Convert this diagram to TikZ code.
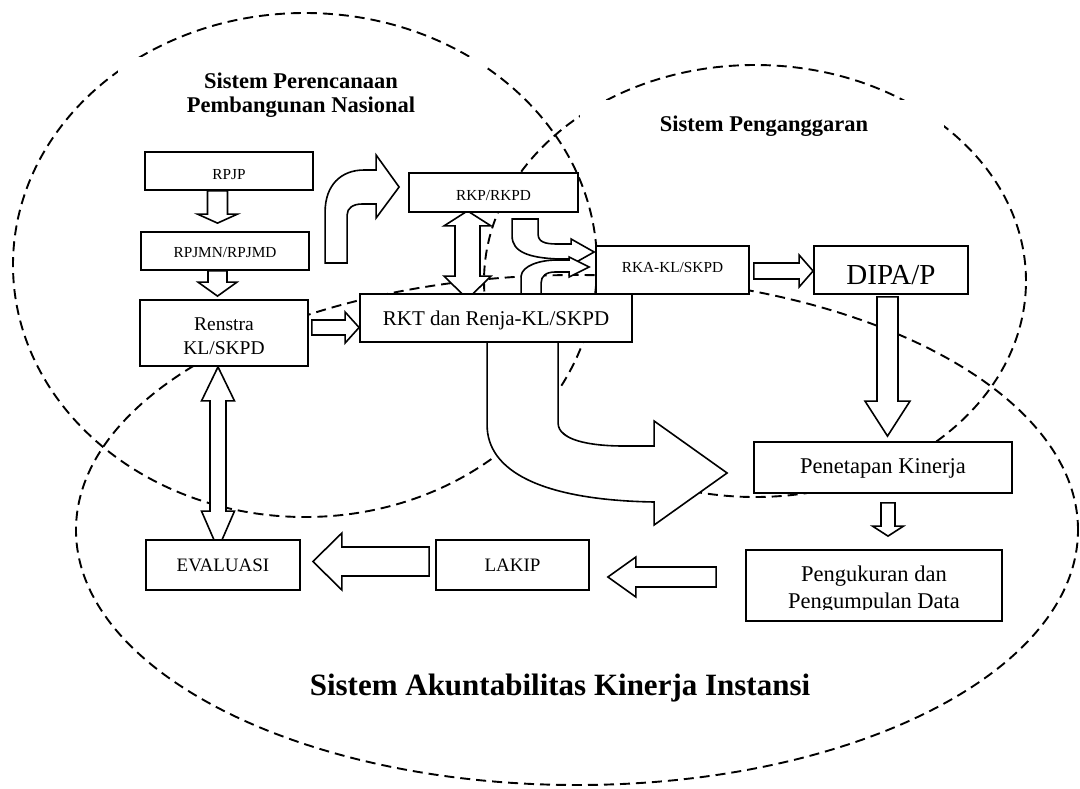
\documentclass[tikz,border=0pt]{standalone}
\usepackage{fontspec}
\setmainfont{Liberation Serif}
\usetikzlibrary{calc}
\pgfdeclarelayer{ell}
\pgfdeclarelayer{arr}
\pgfsetlayers{ell,arr,main}

% straight block arrows: start, tip, shaft half width, head half width, head length
\newcommand\blkdown[5]{%
  \draw[blk] let \p1=(#1), \p2=(#2) in
    (\x2-#3pt,\y1) -- (\x2-#3pt,\y2+#5pt) -- (\x2-#4pt,\y2+#5pt) -- (\p2)
    -- (\x2+#4pt,\y2+#5pt) -- (\x2+#3pt,\y2+#5pt) -- (\x2+#3pt,\y1) -- cycle;}
\newcommand\blkright[5]{%
  \draw[blk] let \p1=(#1), \p2=(#2) in
    (\x1,\y2+#3pt) -- (\x2-#5pt,\y2+#3pt) -- (\x2-#5pt,\y2+#4pt) -- (\p2)
    -- (\x2-#5pt,\y2-#4pt) -- (\x2-#5pt,\y2-#3pt) -- (\x1,\y2-#3pt) -- cycle;}
\newcommand\blkleft[5]{%
  \draw[blk] let \p1=(#1), \p2=(#2) in
    (\x1,\y2+#3pt) -- (\x2+#5pt,\y2+#3pt) -- (\x2+#5pt,\y2+#4pt) -- (\p2)
    -- (\x2+#5pt,\y2-#4pt) -- (\x2+#5pt,\y2-#3pt) -- (\x1,\y2-#3pt) -- cycle;}
% two-headed vertical block arrow: upper tip, lower tip, shaft hw, head hw, upper head length, lower head length
\newcommand\blkupdown[6]{%
  \draw[blk] let \p1=(#1), \p2=(#2) in
    (\p1) -- (\x1+#4pt,\y1-#5pt) -- (\x1+#3pt,\y1-#5pt) -- (\x1+#3pt,\y2+#6pt)
    -- (\x1+#4pt,\y2+#6pt) -- (\x1,\y2) -- (\x1-#4pt,\y2+#6pt) -- (\x1-#3pt,\y2+#6pt)
    -- (\x1-#3pt,\y1-#5pt) -- (\x1-#4pt,\y1-#5pt) -- cycle;}

\begin{document}
\begin{tikzpicture}[x=1pt,y=-1pt,
  box/.style={draw,line width=1.8pt,fill=white,inner sep=0pt},
  blk/.style={draw,fill=white,line width=1.6pt,line join=miter},
  ring/.style={draw,line width=1.9pt,dash pattern=on 10pt off 6pt},
  lbl/.style={anchor=base,inner sep=0pt},
  sz/.style={font=\fontsize{#1}{#1}\selectfont},
  ttl/.style={font=\fontsize{22.5}{22.5}\selectfont\bfseries},
  bigttl/.style={font=\fontsize{31}{31}\selectfont\bfseries},
  titlebg/.style={fill=white,inner sep=0pt}]
\useasboundingbox (0,0) rectangle (1080,788);

% ---------- the three system areas ----------
\begin{pgfonlayer}{ell}
  \fill[white] (0,0) rectangle (1080,788);
  \draw[ring] (305,265) ellipse [x radius=292pt, y radius=252pt];
  \draw[ring] (755,281) ellipse [x radius=271pt, y radius=216pt];
  \draw[ring] (577,530) ellipse [x radius=501pt, y radius=255pt];
  \node[titlebg, minimum width=366pt, minimum height=73pt] (t1) at (301,93.5) {};
  \node[titlebg, minimum width=364pt, minimum height=50pt] (t2) at (762,125) {};
\end{pgfonlayer}

% ---------- documents ----------
\node[box, minimum width=168pt, minimum height=38pt] (rpjp) at (229,171) {};
\node[box, minimum width=168pt, minimum height=38pt] (rpjmn) at (225,251) {};
\node[box, minimum width=168pt, minimum height=66pt] (renstra) at (224,333) {};
\node[box, minimum width=272pt, minimum height=48pt] (rkt) at (496,318) {};
\node[box, minimum width=169pt, minimum height=39pt] (rkp) at (493.5,192.5) {};
\node[box, minimum width=153pt, minimum height=48pt] (rka) at (672.5,270) {};
\node[box, minimum width=154pt, minimum height=48pt] (dipa) at (891,270) {};
\node[box, minimum width=258pt, minimum height=51pt] (penetapan) at (883,467.5) {};
\node[box, minimum width=256pt, minimum height=71pt] (pengukuran) at (874,585.5) {};
\node[box, minimum width=154pt, minimum height=50pt] (evaluasi) at (223,565) {};
\node[box, minimum width=153pt, minimum height=50pt] (lakip) at (512.5,565) {};

\node[lbl,sz=15.3] (rpjpL) at ([yshift=-8pt]rpjp.center) {RPJP};
\node[lbl,sz=15.3] (rpjmnL) at ([yshift=-6.7pt]rpjmn.center) {RPJMN/RPJMD};
\node[lbl,sz=15.3] (rkpL) at ([yshift=-8.2pt]rkp.center) {RKP/RKPD};
\node[lbl,sz=15.3] (rkaL) at ([yshift=-2.3pt]rka.center) {RKA-KL/SKPD};
\node[lbl,sz=19.5] (renL1) at ([yshift=3pt]renstra.center) {Renstra};
\node[lbl,sz=19.5] (renL2) at ([yshift=-21pt]renstra.center) {KL/SKPD};
\node[lbl,sz=21] (rktL) at ([yshift=-7.7pt]rkt.center) {RKT dan Renja-KL/SKPD};
\node[lbl,sz=29] (dipaL) at ([yshift=-14.3pt]dipa.center) {DIPA/P};
\node[lbl,sz=22.5] (penL) at ([yshift=-5.8pt]penetapan.center) {Penetapan Kinerja};
\begin{scope}
  \clip (746,540) rectangle (1002,609);
  \node[lbl,sz=22.5] (pengL1) at ([yshift=4.5pt]pengukuran.center) {Pengukuran dan};
  \node[lbl,sz=22.5] (pengL2) at ([yshift=-22.5pt]pengukuran.center) {Pengumpulan Data};
\end{scope}
\node[lbl,sz=19] (evalL) at ([yshift=-6.7pt]evaluasi.center) {EVALUASI};
\node[lbl,sz=19] (lakipL) at ([yshift=-6.7pt]lakip.center) {LAKIP};

\node[lbl,ttl] (t1a) at ([yshift=5.2pt]t1.center) {Sistem Perencanaan};
\node[lbl,ttl] (t1b) at ([yshift=-19.2pt]t1.center) {Pembangunan Nasional};
\node[lbl,ttl] (t2a) at ([xshift=2pt,yshift=-6pt]t2.center) {Sistem Penganggaran};
\node[lbl,bigttl] (t3) at (560,695) {Sistem Akuntabilitas Kinerja Instansi};

% ---------- flows ----------
\begin{pgfonlayer}{arr}
  \coordinate (a1s) at ([xshift=-11.5pt]rpjp.south);
  \coordinate (a1t) at ([xshift=-7.5pt,yshift=8pt]rpjmn.north);
  \blkdown{a1s}{a1t}{10}{20}{9}

  \coordinate (a2s) at ([xshift=-7.5pt]rpjmn.south);
  \coordinate (a2t) at ([xshift=-6.5pt,yshift=3pt]renstra.north);
  \blkdown{a2s}{a2t}{9.5}{19.5}{14}

  \coordinate (a3s) at ([xshift=3pt]renstra.east);
  \coordinate (a3t) at ([yshift=-9.5pt]rkt.west);
  \blkright{a3s}{a3t}{7.5}{15.5}{14}

  \coordinate (a5a) at ([xshift=-26pt,yshift=2pt]rkp.south);
  \coordinate (a5b) at ([xshift=-28.5pt,yshift=-6pt]rkt.north);
  \blkupdown{a5a}{a5b}{12.5}{23.5}{15}{23}

  \coordinate (a8s) at ([xshift=4pt]rka.east);
  \coordinate (a8t) at ([yshift=-1pt]dipa.west);
  \blkright{a8s}{a8t}{8}{16}{14}

  \coordinate (a9s) at ([xshift=-3.5pt,yshift=-2pt]dipa.south);
  \coordinate (a9t) at ([xshift=4.5pt,yshift=5pt]penetapan.north);
  \blkdown{a9s}{a9t}{10.5}{22.5}{35}

  \coordinate (a10s) at ([xshift=5pt,yshift=-9pt]penetapan.south);
  \coordinate (a10t) at ([xshift=14pt,yshift=13pt]pengukuran.north);
  \blkdown{a10s}{a10t}{7}{15.5}{10}

  \coordinate (a11s) at ([xshift=-29pt]pengukuran.west);
  \coordinate (a11t) at ([xshift=18pt,yshift=-12pt]lakip.east);
  \blkleft{a11s}{a11t}{10}{20}{28}

  \coordinate (a12s) at ([xshift=-6pt]lakip.west);
  \coordinate (a12t) at ([xshift=12pt,yshift=3.5pt]evaluasi.east);
  \blkleft{a12s}{a12t}{14.5}{28.5}{29}

  \coordinate (a13a) at ([xshift=-6pt]renstra.south);
  \coordinate (a13b) at ([xshift=-5pt,yshift=-10pt]evaluasi.north);
  \blkupdown{a13a}{a13b}{8}{16.5}{34}{38}

  % bent arrow rising into RKP/RKPD
  \coordinate (a4t) at ([xshift=-9pt,yshift=5.5pt]rkp.west);
  \begin{scope}[shift={(a4t)}]
    \draw[blk] (0,0) -- (-23,-32) -- (-23,-17) -- (-35,-17)
      .. controls (-58,-17) and (-74,-2) .. (-74,25) -- (-74,76) -- (-52,76) -- (-52,28)
      .. controls (-52,21) and (-46,17) .. (-37,17) -- (-23,17) -- (-23,31) -- cycle;
  \end{scope}

  % RKP/RKPD down into RKA-KL/SKPD
  \coordinate (a6t) at ([xshift=-1pt,yshift=18pt]rka.west);
  \begin{scope}[shift={(a6t)}]
    \draw[blk] (-82,-33) -- (-56,-33) -- (-56,-18)
      .. controls (-56,-10) and (-49,-8) .. (-37,-8) -- (-23,-8) -- (-23,-13) -- (0,0)
      -- (-23,13) -- (-23,7) -- (-35,7)
      .. controls (-65,6) and (-82,0) .. (-82,-16) -- cycle;
  \end{scope}

  % RKT up into RKA-KL/SKPD
  \coordinate (a7t) at ([xshift=-6pt,yshift=3pt]rka.west);
  \begin{scope}[shift={(a7t)}]
    \draw[blk] (-68,27) -- (-68,9) .. controls (-67,-1) and (-50,-7) .. (-32,-7)
      -- (-20,-7) -- (-20,-10) -- (0,0) -- (-20,10) -- (-20,5) -- (-34,5)
      .. controls (-43,5) and (-48,9) .. (-48,16) -- (-48,27) -- cycle;
  \end{scope}

  % wide U-turn arrow from RKT down to Penetapan Kinerja
  \coordinate (a14t) at ([xshift=-26pt,yshift=-5.5pt]penetapan.west);
  \begin{scope}[shift={(a14t)}]
    \draw[blk] (-240,-131) -- (-240,-48) .. controls (-240,-3) and (-188,27) .. (-73,29)
      -- (-73,52) -- (0,0) -- (-73,-52) -- (-73,-27) -- (-103,-27)
      .. controls (-138,-27) and (-169,-33) .. (-169,-50) -- (-169,-131) -- cycle;
  \end{scope}
\end{pgfonlayer}
\end{tikzpicture}
\end{document}
